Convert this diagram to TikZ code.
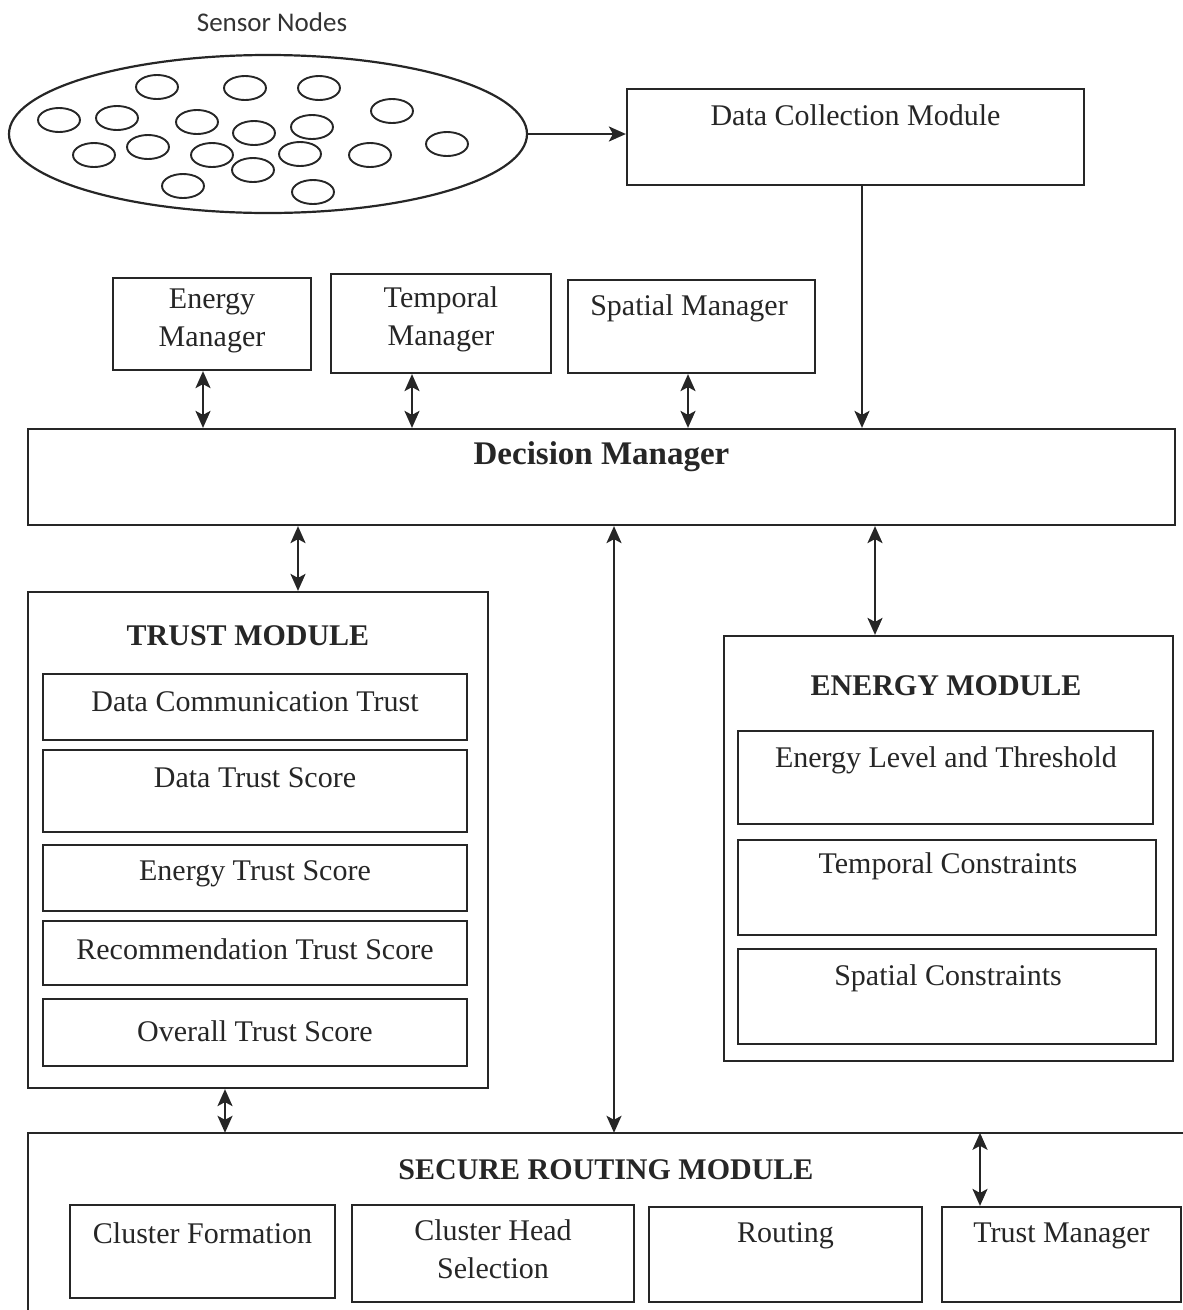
\documentclass[tikz,border=0pt]{standalone}
\usepackage{fontspec}
\setmainfont{Liberation Serif}
\newfontfamily\calfont{Carlito}
\usetikzlibrary{arrows.meta,shapes.geometric}
\begin{document}
\begin{tikzpicture}[x=1pt,y=-1pt,
  ln/.style={line width=2.2pt,draw=black!85},
  box/.style={ln,rectangle,inner sep=0pt},
  lbl/.style={inner sep=0pt,text=black!85,font=\fontsize{30}{38}\selectfont,align=center},
  blbl/.style={lbl,font=\fontsize{30}{38}\selectfont\bfseries},
  sn/.style={ln,line width=1.9pt,ellipse,minimum width=42pt,minimum height=24pt,inner sep=0pt},
  arr/.style={ln,-{Stealth[length=17pt,width=15pt,inset=4pt]}},
  darr/.style={ln,{Stealth[length=17pt,width=15pt,inset=4pt]}-{Stealth[length=17pt,width=15pt,inset=4pt]}}]
\useasboundingbox (0,0) rectangle (1183,1310);
% sensor field
\node[inner sep=0pt,text=black!80,font=\calfont\fontsize{27}{30}\selectfont] (snt) at (272,22) {Sensor Nodes};
\node[ln,ellipse,minimum width=518pt,minimum height=158pt,inner sep=0pt] (ell) at (268,134) {};
\foreach \p [count=\i] in {(157,87),(245,88),(319,88),(392,111),(59,120),(117,118),(197,122),(254,133),(312,127),(94,155),(148,147),(212,155),(300,154),(370,155),(447,144),(253,170),(183,186),(313,192)}
  \node[sn] (s\i) at \p {};
% data collection
\node[box,minimum width=457pt,minimum height=96pt] (dcm) at (855.5,137) {};
\node[lbl] (dcmt) at (855.5,115) {Data Collection Module};
% managers
\node[box,minimum width=198pt,minimum height=92pt] (em) at (212,324) {};
\node[lbl] (emt) at (212,321) {Energy\\Manager};
\node[box,minimum width=220pt,minimum height=99pt] (tm) at (441,323.5) {};
\node[lbl] (tmt) at (441,319) {Temporal\\Manager};
\node[box,minimum width=247pt,minimum height=93pt] (sm) at (691.5,326.5) {};
\node[lbl] (smt) at (689,308) {Spatial Manager};
% decision manager
\node[box,minimum width=1147pt,minimum height=96pt] (dm) at (601.5,477) {};
\node[blbl,font=\fontsize{33}{38}\selectfont\bfseries] (dmt) at (601.5,457) {Decision Manager};
% trust module
\node[box,minimum width=460pt,minimum height=496pt] (trust) at (258,840) {};
\node[blbl] (trustt) at (248,636) {TRUST MODULE};
\node[box,minimum width=424pt,minimum height=66pt] (dct) at (255,707) {};
\node[lbl] (dctt) at (255,702) {Data Communication Trust};
\node[box,minimum width=424pt,minimum height=82pt] (dts) at (255,791) {};
\node[lbl] (dtst) at (255,778) {Data Trust Score};
\node[box,minimum width=424pt,minimum height=66pt] (ets) at (255,878) {};
\node[lbl] (etst) at (255,874) {Energy Trust Score};
\node[box,minimum width=424pt,minimum height=64pt] (rts) at (255,953) {};
\node[lbl] (rtst) at (255,949) {Recommendation Trust Score};
\node[box,minimum width=424pt,minimum height=67pt] (ots) at (255,1032.5) {};
\node[lbl] (otst) at (255,1031) {Overall Trust Score};
% energy module
\node[box,minimum width=449pt,minimum height=425pt] (enm) at (948.5,848.5) {};
\node[blbl] (enmt) at (946,686) {ENERGY MODULE};
\node[box,minimum width=415pt,minimum height=93pt] (elt) at (945.5,777.5) {};
\node[lbl] (eltt) at (946,760) {Energy Level and Threshold};
\node[box,minimum width=418pt,minimum height=95pt] (tc) at (947,887.5) {};
\node[lbl] (tct) at (948,866) {Temporal Constraints};
\node[box,minimum width=418pt,minimum height=95pt] (sc) at (947,996.5) {};
\node[lbl] (sct) at (948,978) {Spatial Constraints};
% secure routing module
\node[inner sep=0pt,minimum width=1155pt,minimum height=177pt] (srm) at (605.5,1221.5) {};
\draw[ln] (srm.south west) -- (srm.north west) -- (srm.north east);
\node[blbl] (srmt) at (606,1170) {SECURE ROUTING MODULE};
\node[box,minimum width=265pt,minimum height=93pt] (cf) at (202.5,1251.5) {};
\node[lbl] (cft) at (202.5,1233) {Cluster Formation};
\node[box,minimum width=282pt,minimum height=97pt] (chs) at (493,1253.5) {};
\node[lbl] (chst) at (493,1249) {Cluster Head\\Selection};
\node[box,minimum width=273pt,minimum height=95pt] (rt) at (785.5,1254.5) {};
\node[lbl] (rtt) at (785.5,1236) {Routing};
\node[box,minimum width=239pt,minimum height=95pt] (tmg) at (1061.5,1254.5) {};
\node[lbl] (tmgt) at (1061.5,1236) {Trust Manager};
% connectors
\draw[arr] (ell.east) -- (ell.east -| dcm.west);
\draw[arr] (862,0 |- dcm.south) -- (862,0 |- dm.north);
\draw[darr] (203,0 |- em.south) -- (203,0 |- dm.north);
\draw[darr] (412,0 |- tm.south) -- (412,0 |- dm.north);
\draw[darr] (688,0 |- sm.south) -- (688,0 |- dm.north);
\draw[darr] (298,0 |- dm.south) -- (298,0 |- trust.north);
\draw[darr] (614,0 |- dm.south) -- (614,0 |- srm.north);
\draw[darr] (875,0 |- dm.south) -- (875,0 |- enm.north);
\draw[darr] (225,0 |- trust.south) -- (225,0 |- srm.north);
\draw[darr] (980,0 |- srm.north) -- (980,0 |- tmg.north);
\end{tikzpicture}
\end{document}
